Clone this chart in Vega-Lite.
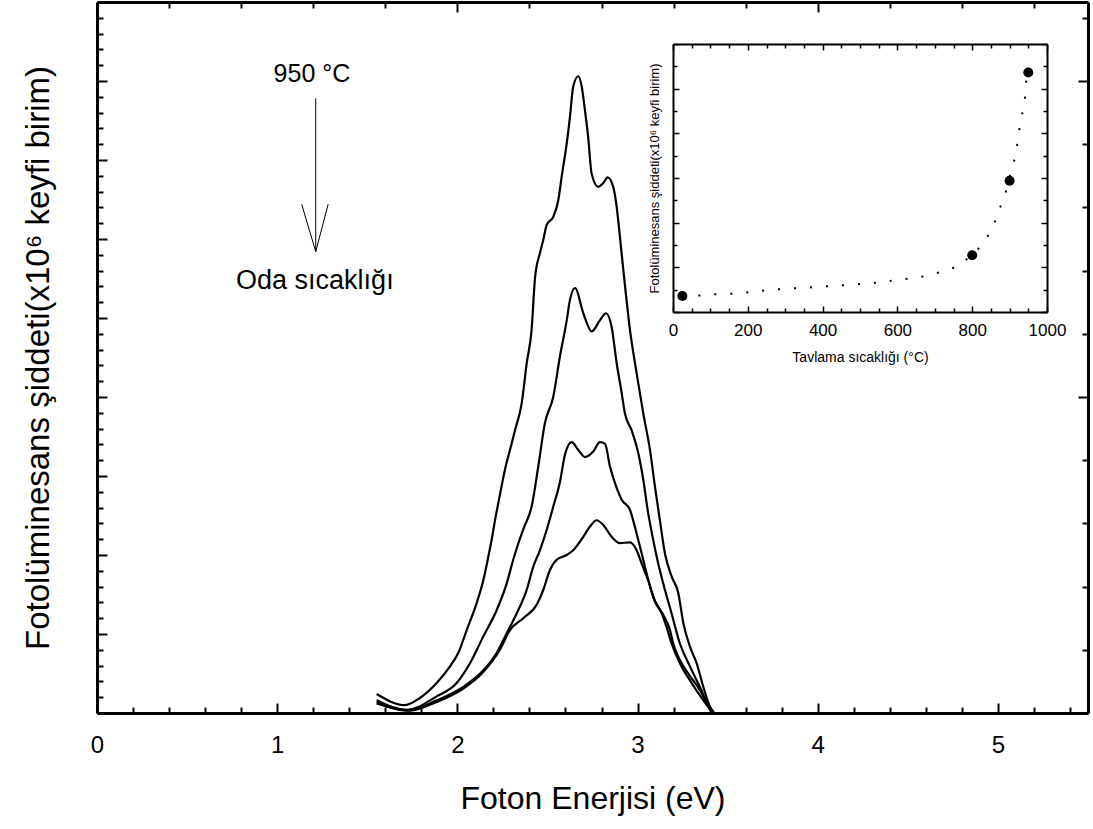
{
  "$schema": "https://vega.github.io/schema/vega-lite/v6.json",
  "width": 991,
  "height": 711,
  "autosize": "none",
  "padding": {"left": 97, "top": 2, "right": 5, "bottom": 116},
  "config": {
    "view": {"stroke": null},
    "font": "Liberation Sans",
    "axis": {"grid": false, "labelColor": "black", "titleColor": "black", "tickColor": "black", "domainColor": "black", "titleFontWeight": "normal", "labelFont": "Liberation Sans", "titleFont": "Liberation Sans", "labelFlush": false, "labelOverlap": false}
  },
  "datasets": {
    "spectra": [
      {"s": "950", "E": 1.552, "I": 0.24}, {"s": "950", "E": 1.709, "I": 0.10}, {"s": "950", "E": 1.792, "I": 0.19}, {"s": "950", "E": 1.885, "I": 0.38},
      {"s": "950", "E": 1.959, "I": 0.59}, {"s": "950", "E": 2.005, "I": 0.76}, {"s": "950", "E": 2.052, "I": 1.05}, {"s": "950", "E": 2.107, "I": 1.39},
      {"s": "950", "E": 2.144, "I": 1.68}, {"s": "950", "E": 2.172, "I": 1.98}, {"s": "950", "E": 2.190, "I": 2.19}, {"s": "950", "E": 2.209, "I": 2.44},
      {"s": "950", "E": 2.236, "I": 2.76}, {"s": "950", "E": 2.264, "I": 3.08}, {"s": "950", "E": 2.292, "I": 3.33}, {"s": "950", "E": 2.320, "I": 3.58},
      {"s": "950", "E": 2.357, "I": 3.92}, {"s": "950", "E": 2.385, "I": 4.43}, {"s": "950", "E": 2.412, "I": 4.85}, {"s": "950", "E": 2.431, "I": 5.51},
      {"s": "950", "E": 2.458, "I": 5.82}, {"s": "950", "E": 2.477, "I": 5.99}, {"s": "950", "E": 2.496, "I": 6.18}, {"s": "950", "E": 2.532, "I": 6.28},
      {"s": "950", "E": 2.560, "I": 6.49}, {"s": "950", "E": 2.579, "I": 6.79}, {"s": "950", "E": 2.607, "I": 7.21}, {"s": "950", "E": 2.625, "I": 7.55},
      {"s": "950", "E": 2.643, "I": 7.93}, {"s": "950", "E": 2.671, "I": 8.06}, {"s": "950", "E": 2.690, "I": 7.93}, {"s": "950", "E": 2.708, "I": 7.63},
      {"s": "950", "E": 2.726, "I": 7.29}, {"s": "950", "E": 2.745, "I": 6.83}, {"s": "950", "E": 2.782, "I": 6.66}, {"s": "950", "E": 2.810, "I": 6.71},
      {"s": "950", "E": 2.834, "I": 6.78}, {"s": "950", "E": 2.865, "I": 6.66}, {"s": "950", "E": 2.884, "I": 6.41}, {"s": "950", "E": 2.902, "I": 6.03},
      {"s": "950", "E": 2.921, "I": 5.61}, {"s": "950", "E": 2.958, "I": 4.85}, {"s": "950", "E": 2.995, "I": 4.30}, {"s": "950", "E": 3.032, "I": 3.79},
      {"s": "950", "E": 3.069, "I": 3.33}, {"s": "950", "E": 3.097, "I": 2.86}, {"s": "950", "E": 3.124, "I": 2.44}, {"s": "950", "E": 3.152, "I": 2.02},
      {"s": "950", "E": 3.189, "I": 1.73}, {"s": "950", "E": 3.226, "I": 1.52}, {"s": "950", "E": 3.254, "I": 1.14}, {"s": "950", "E": 3.291, "I": 0.84},
      {"s": "950", "E": 3.328, "I": 0.63}, {"s": "950", "E": 3.365, "I": 0.33}, {"s": "950", "E": 3.402, "I": 0.08}, {"s": "950", "E": 3.420, "I": 0.02},

      {"s": "900", "E": 1.552, "I": 0.16}, {"s": "900", "E": 1.719, "I": 0.04}, {"s": "900", "E": 1.885, "I": 0.21}, {"s": "900", "E": 1.996, "I": 0.38},
      {"s": "900", "E": 2.070, "I": 0.63}, {"s": "900", "E": 2.144, "I": 0.97}, {"s": "900", "E": 2.218, "I": 1.30}, {"s": "900", "E": 2.274, "I": 1.64},
      {"s": "900", "E": 2.310, "I": 1.94}, {"s": "900", "E": 2.336, "I": 2.13}, {"s": "900", "E": 2.370, "I": 2.35}, {"s": "900", "E": 2.412, "I": 2.61},
      {"s": "900", "E": 2.449, "I": 3.12}, {"s": "900", "E": 2.486, "I": 3.67}, {"s": "900", "E": 2.532, "I": 4.00}, {"s": "900", "E": 2.569, "I": 4.51},
      {"s": "900", "E": 2.607, "I": 4.97}, {"s": "900", "E": 2.625, "I": 5.23}, {"s": "900", "E": 2.653, "I": 5.38}, {"s": "900", "E": 2.699, "I": 5.06},
      {"s": "900", "E": 2.745, "I": 4.83}, {"s": "900", "E": 2.791, "I": 4.97}, {"s": "900", "E": 2.825, "I": 5.06}, {"s": "900", "E": 2.856, "I": 4.89},
      {"s": "900", "E": 2.884, "I": 4.43}, {"s": "900", "E": 2.912, "I": 4.05}, {"s": "900", "E": 2.930, "I": 3.79}, {"s": "900", "E": 2.967, "I": 3.58},
      {"s": "900", "E": 3.004, "I": 3.29}, {"s": "900", "E": 3.032, "I": 2.95}, {"s": "900", "E": 3.059, "I": 2.53}, {"s": "900", "E": 3.087, "I": 2.19},
      {"s": "900", "E": 3.115, "I": 1.89}, {"s": "900", "E": 3.152, "I": 1.56}, {"s": "900", "E": 3.189, "I": 1.26}, {"s": "900", "E": 3.235, "I": 0.88},
      {"s": "900", "E": 3.291, "I": 0.59}, {"s": "900", "E": 3.346, "I": 0.33}, {"s": "900", "E": 3.402, "I": 0.06}, {"s": "900", "E": 3.424, "I": 0.01},

      {"s": "800", "E": 1.552, "I": 0.14}, {"s": "800", "E": 1.719, "I": 0.03}, {"s": "800", "E": 1.885, "I": 0.16}, {"s": "800", "E": 2.033, "I": 0.33},
      {"s": "800", "E": 2.144, "I": 0.54}, {"s": "800", "E": 2.218, "I": 0.76}, {"s": "800", "E": 2.274, "I": 1.01}, {"s": "800", "E": 2.329, "I": 1.26},
      {"s": "800", "E": 2.385, "I": 1.56}, {"s": "800", "E": 2.421, "I": 1.85}, {"s": "800", "E": 2.458, "I": 2.06}, {"s": "800", "E": 2.496, "I": 2.32},
      {"s": "800", "E": 2.532, "I": 2.61}, {"s": "800", "E": 2.569, "I": 2.92}, {"s": "800", "E": 2.597, "I": 3.27}, {"s": "800", "E": 2.634, "I": 3.43},
      {"s": "800", "E": 2.671, "I": 3.33}, {"s": "800", "E": 2.708, "I": 3.24}, {"s": "800", "E": 2.754, "I": 3.31}, {"s": "800", "E": 2.791, "I": 3.43},
      {"s": "800", "E": 2.819, "I": 3.41}, {"s": "800", "E": 2.847, "I": 3.12}, {"s": "800", "E": 2.884, "I": 2.85}, {"s": "800", "E": 2.912, "I": 2.70},
      {"s": "800", "E": 2.958, "I": 2.57}, {"s": "800", "E": 2.995, "I": 2.27}, {"s": "800", "E": 3.023, "I": 2.02}, {"s": "800", "E": 3.050, "I": 1.77},
      {"s": "800", "E": 3.087, "I": 1.47}, {"s": "800", "E": 3.134, "I": 1.26}, {"s": "800", "E": 3.161, "I": 1.09}, {"s": "800", "E": 3.189, "I": 0.88},
      {"s": "800", "E": 3.235, "I": 0.63}, {"s": "800", "E": 3.300, "I": 0.38}, {"s": "800", "E": 3.365, "I": 0.16}, {"s": "800", "E": 3.411, "I": 0.02},

      {"s": "RT", "E": 1.552, "I": 0.12}, {"s": "RT", "E": 1.737, "I": 0.03}, {"s": "RT", "E": 1.885, "I": 0.14}, {"s": "RT", "E": 2.033, "I": 0.31},
      {"s": "RT", "E": 2.144, "I": 0.52}, {"s": "RT", "E": 2.236, "I": 0.80}, {"s": "RT", "E": 2.292, "I": 1.05}, {"s": "RT", "E": 2.366, "I": 1.20},
      {"s": "RT", "E": 2.440, "I": 1.37}, {"s": "RT", "E": 2.477, "I": 1.56}, {"s": "RT", "E": 2.514, "I": 1.81}, {"s": "RT", "E": 2.551, "I": 1.94},
      {"s": "RT", "E": 2.607, "I": 2.00}, {"s": "RT", "E": 2.643, "I": 2.06}, {"s": "RT", "E": 2.699, "I": 2.23}, {"s": "RT", "E": 2.736, "I": 2.36},
      {"s": "RT", "E": 2.773, "I": 2.44}, {"s": "RT", "E": 2.810, "I": 2.38}, {"s": "RT", "E": 2.856, "I": 2.23}, {"s": "RT", "E": 2.902, "I": 2.15},
      {"s": "RT", "E": 2.958, "I": 2.16}, {"s": "RT", "E": 2.995, "I": 2.06}, {"s": "RT", "E": 3.023, "I": 1.89}, {"s": "RT", "E": 3.059, "I": 1.68},
      {"s": "RT", "E": 3.097, "I": 1.41}, {"s": "RT", "E": 3.143, "I": 1.24}, {"s": "RT", "E": 3.180, "I": 1.05}, {"s": "RT", "E": 3.198, "I": 0.88},
      {"s": "RT", "E": 3.235, "I": 0.67}, {"s": "RT", "E": 3.281, "I": 0.50}, {"s": "RT", "E": 3.346, "I": 0.29}, {"s": "RT", "E": 3.402, "I": 0.04}
    ],
    "ann1": [
      {"ax": 1.193, "ay": 7.99, "t": "950 °C"}
    ],
    "ann2": [
      {"ax": 1.209, "ay": 5.37, "t": "Oda sıcaklığı"}
    ],
    "arrow": [
      {"seg": "shaft", "k": 0, "ax": 1.214, "ay": 7.78},
      {"seg": "shaft", "k": 1, "ax": 1.214, "ay": 5.84},
      {"seg": "left", "k": 0, "ax": 1.136, "ay": 6.44},
      {"seg": "left", "k": 1, "ax": 1.214, "ay": 5.84},
      {"seg": "right", "k": 0, "ax": 1.283, "ay": 6.44},
      {"seg": "right", "k": 1, "ax": 1.214, "ay": 5.84}
    ],
    "fit": [
      {"T": 25, "P": 0.36}, {"T": 71, "P": 0.37}, {"T": 119, "P": 0.40}, {"T": 163, "P": 0.41}, {"T": 208, "P": 0.45},
      {"T": 254, "P": 0.49}, {"T": 299, "P": 0.52}, {"T": 344, "P": 0.54}, {"T": 388, "P": 0.56}, {"T": 433, "P": 0.59},
      {"T": 478, "P": 0.61}, {"T": 522, "P": 0.64}, {"T": 567, "P": 0.67}, {"T": 594, "P": 0.72}, {"T": 634, "P": 0.75},
      {"T": 659, "P": 0.78}, {"T": 683, "P": 0.82}, {"T": 705, "P": 0.87}, {"T": 728, "P": 0.93}, {"T": 750, "P": 0.99},
      {"T": 772, "P": 1.08}, {"T": 797, "P": 1.27}, {"T": 817, "P": 1.42}, {"T": 835, "P": 1.61}, {"T": 848, "P": 1.79},
      {"T": 862, "P": 2.05}, {"T": 875, "P": 2.35}, {"T": 888, "P": 2.62}, {"T": 897, "P": 2.94}, {"T": 906, "P": 3.21},
      {"T": 915, "P": 3.47}, {"T": 920, "P": 3.74}, {"T": 929, "P": 4.26}, {"T": 938, "P": 4.60}, {"T": 942, "P": 4.86},
      {"T": 946, "P": 5.36}
    ],
    "pts": [
      {"T": 25, "P": 0.36}, {"T": 800, "P": 1.27}, {"T": 900, "P": 2.94}, {"T": 950, "P": 5.36}
    ]
  },
  "layer": [
    {
      "layer": [
        {
          "data": {"name": "spectra"},
          "mark": {"type": "line", "color": "black", "strokeWidth": 2.2, "interpolate": "monotone"},
          "encoding": {
            "x": {"field": "E", "type": "quantitative", "scale": {"domain": [0, 5.5], "nice": false, "zero": false},
              "axis": {"orient": "bottom", "values": [0,0.2,0.4,0.6,0.8,1,1.2,1.4,1.6,1.8,2,2.2,2.4,2.6,2.8,3,3.2,3.4,3.6,3.8,4,4.2,4.4,4.6,4.8,5,5.2,5.4],
                "labelExpr": "datum.value % 1 === 0 ? format(datum.value, 'd') : ''", "labelFontSize": 24, "labelPadding": 30,
                "tickSize": {"condition": {"test": "datum.value % 1 === 0", "value": -10}, "value": -6}, "tickWidth": 2,
                "domainWidth": 3, "title": "Foton Enerjisi (eV)", "titleFontSize": 32, "titlePadding": 22}},
            "y": {"field": "I", "type": "quantitative", "scale": {"domain": [0, 9], "nice": false, "zero": false},
              "axis": {"orient": "left", "values": [0,0.2,0.4,0.6,0.8,1,1.2,1.4,1.6,1.8,2,2.2,2.4,2.6,2.8,3,3.2,3.4,3.6,3.8,4,4.2,4.4,4.6,4.8,5,5.2,5.4,5.6,5.8,6,6.2,6.4,6.6,6.8,7,7.2,7.4,7.6,7.8,8,8.2,8.4,8.6,8.8,9],
                "labels": false, "tickSize": {"condition": {"test": "datum.value % 1 === 0", "value": -10}, "value": -6}, "tickWidth": 2,
                "domainWidth": 3, "title": "Fotolüminesans şiddeti(x10⁶ keyfi birim)", "titleFontSize": 33, "titlePadding": 41}},
            "detail": {"field": "s"}
          }
        },
        {
          "layer": [
            {
              "data": {"name": "ann1"},
              "mark": {"type": "text", "color": "black", "fontSize": 25, "align": "center", "baseline": "alphabetic", "font": "Liberation Sans"},
              "encoding": {
                "x": {"field": "ax", "type": "quantitative", "scale": {"domain": [0, 5.5], "nice": false, "zero": false},
                  "axis": {"orient": "top", "values": [0,0.2,0.4,0.6,0.8,1,1.2,1.4,1.6,1.8,2,2.2,2.4,2.6,2.8,3,3.2,3.4,3.6,3.8,4,4.2,4.4,4.6,4.8,5,5.2,5.4],
                    "labels": false, "title": null, "tickSize": {"condition": {"test": "datum.value % 1 === 0", "value": -10}, "value": -6}, "tickWidth": 2, "domainWidth": 3}},
                "y": {"field": "ay", "type": "quantitative", "scale": {"domain": [0, 9], "nice": false, "zero": false},
                  "axis": {"orient": "right", "values": [0,0.2,0.4,0.6,0.8,1,1.2,1.4,1.6,1.8,2,2.2,2.4,2.6,2.8,3,3.2,3.4,3.6,3.8,4,4.2,4.4,4.6,4.8,5,5.2,5.4,5.6,5.8,6,6.2,6.4,6.6,6.8,7,7.2,7.4,7.6,7.8,8,8.2,8.4,8.6,8.8,9],
                    "labels": false, "title": null, "tickSize": {"condition": {"test": "datum.value % 1 === 0", "value": -10}, "value": -6}, "tickWidth": 2, "domainWidth": 3}},
                "text": {"field": "t"}
              }
            },
            {
              "data": {"name": "ann2"},
              "mark": {"type": "text", "color": "black", "fontSize": 27, "align": "center", "baseline": "alphabetic", "font": "Liberation Sans"},
              "encoding": {
                "x": {"field": "ax", "type": "quantitative"},
                "y": {"field": "ay", "type": "quantitative"},
                "text": {"field": "t"}
              }
            },
            {
              "data": {"name": "arrow"},
              "mark": {"type": "line", "color": "black", "strokeWidth": 1},
              "encoding": {
                "x": {"field": "ax", "type": "quantitative"},
                "y": {"field": "ay", "type": "quantitative"},
                "detail": {"field": "seg"},
                "order": {"field": "k"}
              }
            }
          ]
        }
      ],
      "resolve": {"axis": {"x": "independent", "y": "independent"}}
    },
    {
      "layer": [
        {
          "data": {"name": "fit"},
          "mark": {"type": "line", "color": "black", "strokeWidth": 2, "strokeDash": [2, 14]},
          "encoding": {
            "x": {"field": "T", "type": "quantitative", "scale": {"domain": [0, 1000], "range": [576, 950], "nice": false, "zero": false},
              "axis": {"orient": "bottom", "offset": -401, "values": [0,50,100,150,200,250,300,350,400,450,500,550,600,650,700,750,800,850,900,950,1000],
                "labelExpr": "datum.value % 200 === 0 ? format(datum.value, 'd') : ''", "labelFontSize": 17, "labelPadding": 16,
                "tickSize": {"condition": {"test": "datum.value % 200 === 0", "value": -6}, "value": -4}, "tickWidth": 1.5,
                "domainWidth": 2, "title": "Tavlama sıcaklığı (°C)", "titleFontSize": 14, "titlePadding": 10}},
            "y": {"field": "P", "type": "quantitative", "scale": {"domain": [0, 6], "range": [310, 42], "nice": false, "zero": false},
              "axis": {"orient": "left", "offset": -576, "values": [0,0.5,1,1.5,2,2.5,3,3.5,4,4.5,5,5.5,6], "labels": false,
                "tickSize": {"condition": {"test": "datum.value % 1 === 0", "value": -6}, "value": -4}, "tickWidth": 1.5,
                "domainWidth": 2, "title": "Fotolüminesans şiddeti(x10⁶ keyfi birim)", "titleFontSize": 13, "titlePadding": 11}}
          }
        },
        {
          "data": {"name": "pts"},
          "mark": {"type": "point", "filled": true, "color": "black", "opacity": 1, "size": 100},
          "encoding": {
            "x": {"field": "T", "type": "quantitative", "scale": {"domain": [0, 1000], "range": [576, 950], "nice": false, "zero": false},
              "axis": {"orient": "top", "offset": -42, "values": [0,50,100,150,200,250,300,350,400,450,500,550,600,650,700,750,800,850,900,950,1000],
                "labels": false, "title": null, "tickSize": {"condition": {"test": "datum.value % 200 === 0", "value": -6}, "value": -4}, "tickWidth": 1.5, "domainWidth": 2}},
            "y": {"field": "P", "type": "quantitative", "scale": {"domain": [0, 6], "range": [310, 42], "nice": false, "zero": false},
              "axis": {"orient": "right", "offset": -41, "values": [0,0.5,1,1.5,2,2.5,3,3.5,4,4.5,5,5.5,6], "labels": false, "title": null,
                "tickSize": {"condition": {"test": "datum.value % 1 === 0", "value": -6}, "value": -4}, "tickWidth": 1.5, "domainWidth": 2}}
          }
        }
      ],
      "resolve": {"axis": {"x": "independent", "y": "independent"}}
    }
  ],
  "resolve": {"scale": {"x": "independent", "y": "independent"}}
}
